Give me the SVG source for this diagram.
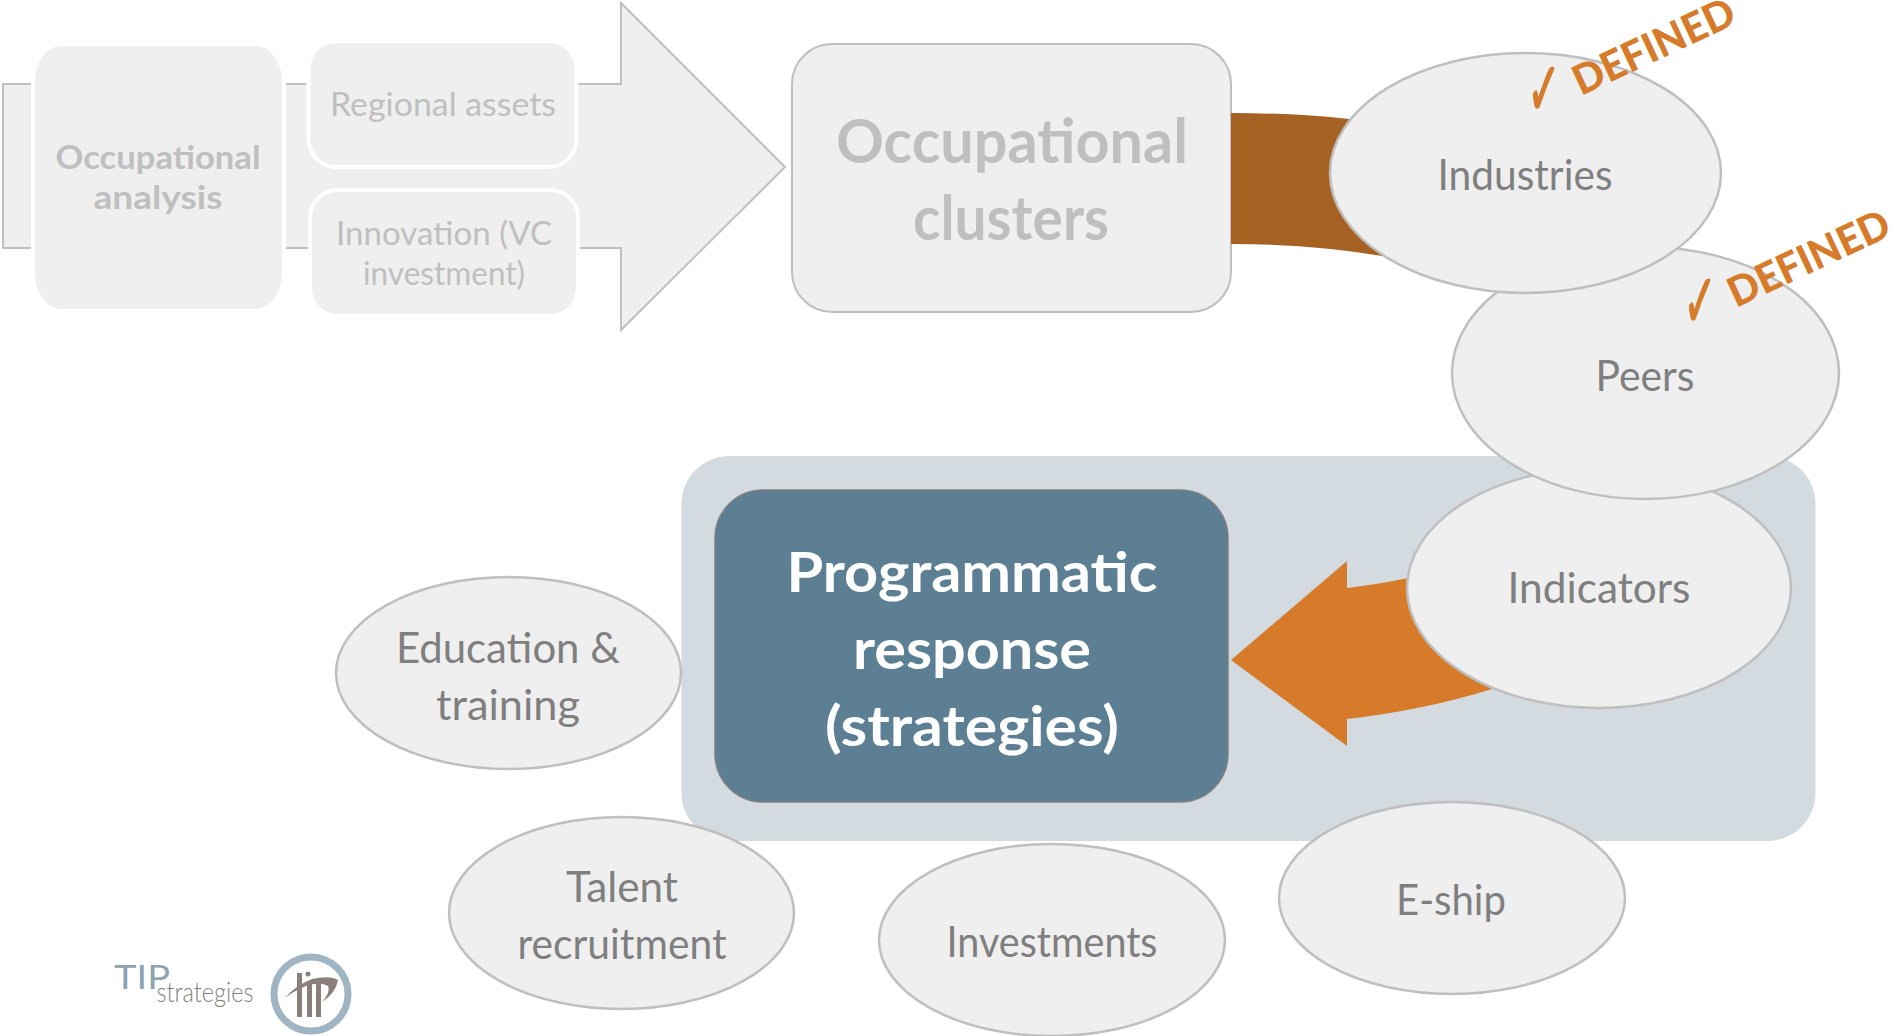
<svg xmlns="http://www.w3.org/2000/svg" width="1894" height="1036" viewBox="0 0 1894 1036">
<style>
text{font-family:"Lato","Open Sans","Liberation Sans",sans-serif;text-anchor:middle}
.box{fill:#efefef;stroke:#bfbfbf;stroke-width:2}
.wbox{fill:#efefef;stroke:#fff;stroke-width:4}
.oval{fill:#efefef;stroke:#bfbfbf;stroke-width:2.5}
.faint{fill:#bfbfbf;font-size:33px}
.b{font-weight:700}
.dark{fill:#7f7f7f;font-size:42px}
.def{fill:#d57b2a;font-size:41px;font-weight:900;text-anchor:start}
.chk{fill:#d57b2a;stroke:#d57b2a;stroke-width:.8px;font-size:40px;font-family:"DejaVu Sans",sans-serif}
</style>
<g id="arrow-main"><path class="box" d="M3,84H621V3L785,167L621,330V248H3Z"/></g>
<g id="occupational-analysis"><rect class="wbox" x="33" y="44" width="251" height="267" rx="28" ry="38"/>
<text class="faint b" x="158" y="169" textLength="205" lengthAdjust="spacingAndGlyphs">Occupational</text>
<text class="faint b" x="158" y="209" textLength="129" lengthAdjust="spacingAndGlyphs">analysis</text></g>
<g id="regional-assets"><rect class="wbox" x="308.500" y="41" width="268" height="126" rx="28"/>
<text class="faint" x="443" y="116" textLength="226" lengthAdjust="spacingAndGlyphs">Regional assets</text></g>
<g id="innovation"><rect class="wbox" x="310" y="190" width="268" height="126" rx="28"/>
<text class="faint" x="444" y="245" textLength="216" lengthAdjust="spacingAndGlyphs">Innovation (VC</text>
<text class="faint" x="444" y="285" textLength="162" lengthAdjust="spacingAndGlyphs">investment)</text></g>
<g id="occupational-clusters"><rect class="box" x="792" y="44" width="439" height="268" rx="40"/>
<text class="b" fill="#bfbfbf" font-size="62" x="1012" y="163" textLength="352" lengthAdjust="spacingAndGlyphs">Occupational</text>
<text class="b" fill="#bfbfbf" font-size="62" x="1011" y="240" textLength="196" lengthAdjust="spacingAndGlyphs">clusters</text></g>
<g id="connectors">
<path fill="#a66223" d="M1231,113Q1295,113 1349,119L1420,190L1382,256Q1310,244 1231,244Z"/>
</g>
<g id="panel"><rect x="681.500" y="456" width="1134" height="385" rx="48" fill="#d3dbe1"/></g>
<g id="programmatic"><rect x="715" y="490" width="513" height="312" rx="48" fill="#5d7f93" stroke="#7f7f7f" stroke-width="1.500"/>
<text class="b" fill="#fff" font-size="56" x="972" y="592" textLength="371" lengthAdjust="spacingAndGlyphs">Programmatic</text>
<text class="b" fill="#fff" font-size="56" x="972" y="669" textLength="238" lengthAdjust="spacingAndGlyphs">response</text>
<text class="b" fill="#fff" font-size="56" x="972" y="746" textLength="294" lengthAdjust="spacingAndGlyphs">(strategies)</text></g>
<g id="connectors-2">
<path fill="#d57b2a" d="M1231,660L1347,561V588Q1380,584 1408,578L1500,620L1492,689Q1425,710 1347,719V746Z"/>
</g>
<g id="indicators"><ellipse class="oval" cx="1599" cy="588" rx="192" ry="120"/>
<text class="dark" x="1599" y="603" textLength="183" lengthAdjust="spacingAndGlyphs">Indicators</text></g>
<g id="peers"><ellipse class="oval" cx="1645.500" cy="373" rx="193.500" ry="126"/>
<text class="dark" x="1645" y="391" textLength="99" lengthAdjust="spacingAndGlyphs">Peers</text>
<text class="chk" transform="translate(1700,327) scale(1,1.9)">✓</text>
<text class="def" transform="translate(1736,308) rotate(-25)" textLength="174" lengthAdjust="spacingAndGlyphs">DEFINED</text></g>
<g id="industries"><ellipse class="oval" cx="1525.500" cy="173" rx="195.500" ry="120"/>
<text class="dark" x="1525" y="190" textLength="175" lengthAdjust="spacingAndGlyphs">Industries</text>
<text class="chk" transform="translate(1544,115) scale(1,1.9)">✓</text>
<text class="def" transform="translate(1581,96) rotate(-25)" textLength="174" lengthAdjust="spacingAndGlyphs">DEFINED</text></g>
<g id="education"><ellipse class="oval" cx="508.500" cy="673" rx="172.500" ry="96"/>
<text class="dark" x="508" y="663" textLength="224" lengthAdjust="spacingAndGlyphs">Education &amp;</text>
<text class="dark" x="508" y="720" textLength="144" lengthAdjust="spacingAndGlyphs">training</text></g>
<g id="talent"><ellipse class="oval" cx="621.500" cy="913" rx="172.500" ry="96"/>
<text class="dark" x="622" y="902" textLength="112" lengthAdjust="spacingAndGlyphs">Talent</text>
<text class="dark" x="622" y="959" textLength="209" lengthAdjust="spacingAndGlyphs">recruitment</text></g>
<g id="investments"><ellipse class="oval" cx="1052" cy="940" rx="173" ry="96"/>
<text class="dark" x="1052" y="957" textLength="211" lengthAdjust="spacingAndGlyphs">Investments</text></g>
<g id="e-ship"><ellipse class="oval" cx="1452" cy="898" rx="173" ry="96"/>
<text class="dark" x="1451" y="915" textLength="110" lengthAdjust="spacingAndGlyphs">E-ship</text></g>
<g id="logo">
<text x="142" y="989" font-size="33" font-weight="400" fill="#8fa3b1" textLength="56" lengthAdjust="spacingAndGlyphs">TIP</text>
<text x="205" y="1002" font-size="28" font-weight="300" fill="#808080" textLength="97" lengthAdjust="spacingAndGlyphs">strategies</text>
<circle cx="311" cy="994" r="37" fill="#fff" stroke="#a0b5c3" stroke-width="7"/>
<rect x="297" y="973" width="5" height="44" fill="#8a8079"/>
<rect x="307" y="983" width="5" height="34" fill="#8a8079"/>
<rect x="316" y="983" width="5" height="34" fill="#8a8079"/>
<circle cx="308" cy="974" r="2.500" fill="#8a8079"/>
<path d="M285,998Q296,985 312,979Q330,975 338,980Q336,993 322,1002Q331,992 328,986Q320,981 306,986Q294,991 285,998Z" fill="#8a8079"/>
</g>
</svg>
